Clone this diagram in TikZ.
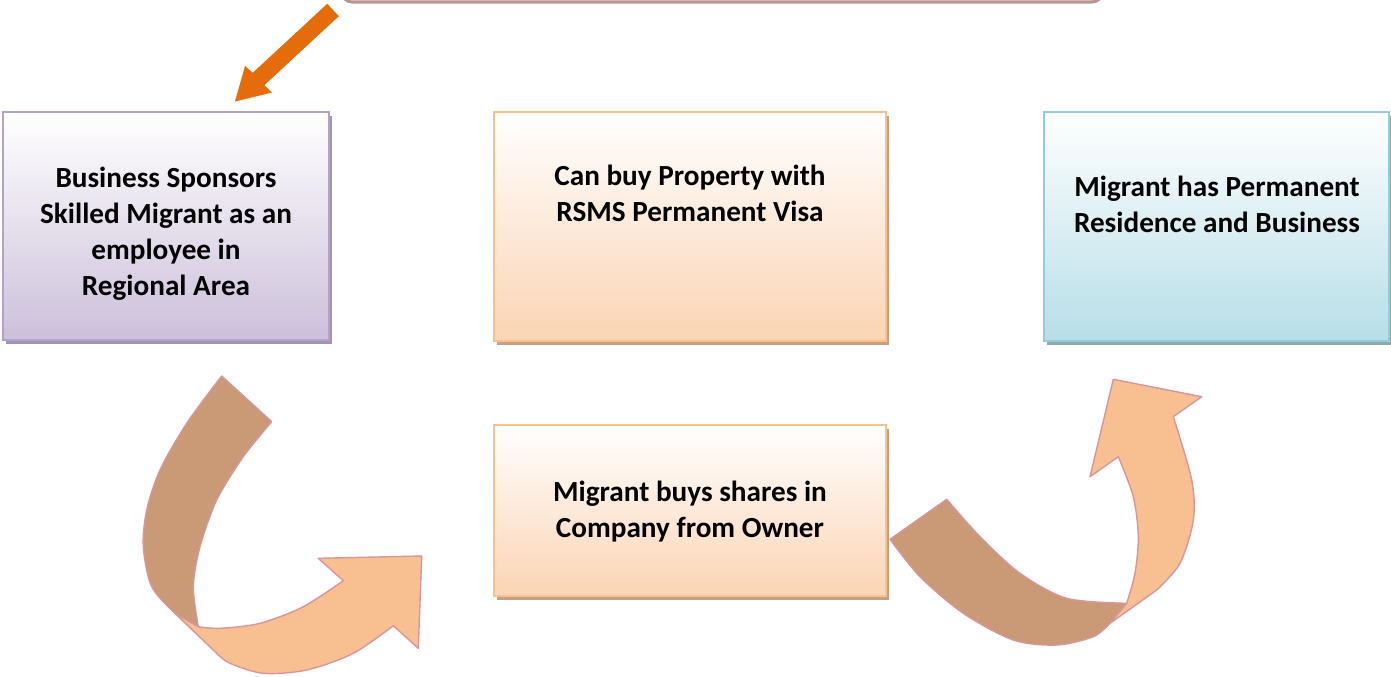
\documentclass[tikz,border=0pt]{standalone}
\usepackage{fontspec}
\setmainfont{Carlito}
\usetikzlibrary{shadows}
\definecolor{pborder}{HTML}{B3A2C7}
\definecolor{pbot}{HTML}{CCC0DA}
\definecolor{pshadow}{HTML}{A193B3}
\definecolor{oborder}{HTML}{FAC090}
\definecolor{obot}{HTML}{FBD4B4}
\definecolor{oshadow}{HTML}{C9A07F}
\definecolor{bborder}{HTML}{93CDDD}
\definecolor{bbot}{HTML}{B7DEE8}
\definecolor{bshadow}{HTML}{8FA9B1}
\definecolor{arrbrown}{HTML}{C99A75}
\definecolor{arrorange}{HTML}{F8C091}
\definecolor{arredge}{HTML}{D9959A}
\definecolor{darkorange}{HTML}{E46C0A}
\definecolor{topband}{HTML}{B79591}
\tikzset{
  boxbase/.style={rectangle, inner sep=0pt, line width=1pt, top color=white},
  pbox/.style={boxbase, draw=pborder, bottom color=pbot,
    drop shadow={shadow xshift=1.5pt, shadow yshift=-2pt, fill=pshadow, opacity=1}},
  obox/.style={boxbase, draw=oborder, bottom color=obot,
    drop shadow={shadow xshift=1.5pt, shadow yshift=-2pt, fill=oshadow, opacity=1}},
  bbox/.style={boxbase, draw=bborder, bottom color=bbot,
    drop shadow={shadow xshift=1.5pt, shadow yshift=-2pt, fill=bshadow, opacity=1}},
  txt/.style={align=center, font=\fontsize{14.6pt}{18pt}\selectfont\bfseries, inner sep=0pt},
  brownpart/.style={fill=arrbrown, draw=arredge, line width=0.7pt, line join=round},
  orangepart/.style={fill=arrorange, draw=arredge, line width=0.7pt, line join=round},
}
\begin{document}
\begin{tikzpicture}[x=0.5pt, y=-0.5pt]
\useasboundingbox (0,0) rectangle (1391,676);
\begin{scope}
\clip (0,0) rectangle (1391,676);
% top (cut-off) rounded box
\fill[topband, rounded corners=6pt] (340,-60) rectangle (1104,3.5);
\fill[white, rounded corners=6pt] (340,-60) rectangle (1104,0.3);
\end{scope}
% orange arrow at top
\fill[darkorange] (327.2,3.8) -- (338.8,16.2) -- (264.3,85.2) -- (272,92.5) -- (235,101.5) -- (245,66) -- (252.7,72.8) -- cycle;
% boxes
\node[pbox, minimum width=163pt, minimum height=114pt] (b1) at (166,226) {};
\node[txt] (t1) at (166,234) {Business Sponsors\\Skilled Migrant as an\\employee in\\Regional Area};
\node[obox, minimum width=196pt, minimum height=114.5pt] (b2) at (690,226.5) {};
\node[txt] (t2) at (690,193) {Can buy Property with\\RSMS Permanent Visa};
\node[bbox, minimum width=172.5pt, minimum height=114.5pt] (b3) at (1216.5,226.5) {};
\node[txt] (t3) at (1217,204.5) {Migrant has Permanent\\Residence and Business};
\node[obox, minimum width=196pt, minimum height=85.5pt] (b4) at (690,510.5) {};
\node[txt] (t4) at (690,512) {Migrant buys shares in\\Company from Owner};
% left curved arrow
\filldraw[brownpart] (221.7,376) -- (271.7,421.7)
  -- plot[smooth] coordinates {(271.7,421.7) (243.3,456.7) (216.7,500) (200,546.7) (193.3,586.7) (198.3,626.7)}
  -- (175,613.3)
  -- plot[smooth] coordinates {(175,613.3) (151.7,586.7) (143.3,546.7) (146.7,510) (160,470) (186.7,423.3) (221.7,376)}
  -- cycle;
\filldraw[orangepart] (175,613.3) -- (216.7,653.3)
  -- plot[smooth] coordinates {(216.7,653.3) (230,663.3) (263.3,673.3) (306.7,670) (353.3,653.3) (393.3,625.7)}
  -- (418.3,648.3) -- (421.7,556) -- (318.3,558.3) -- (343.3,580.7)
  -- plot[smooth] coordinates {(343.3,580.7) (303.3,606.7) (260,623.3) (220,628.3) (198.3,626.7)}
  -- cycle;
% right curved arrow
\filldraw[brownpart] (890,539.3) -- (946.7,499.3)
  -- plot[smooth] coordinates {(946.7,499.3) (980,536.7) (1020,573.3) (1066.7,598.3) (1126.7,603.3)}
  -- (1110,623.3)
  -- plot[smooth] coordinates {(1110,623.3) (1093.3,636.7) (1056.7,645) (1013.3,640) (963.3,613.3) (920,576.7) (890,539.3)}
  -- cycle;
\filldraw[orangepart] (1110,623.3) -- (1156.7,590)
  -- plot[smooth] coordinates {(1156.7,590) (1180,563.3) (1193.3,520) (1191.7,480) (1173.3,416.7)}
  -- (1201.7,396.7) -- (1113.3,379.3) -- (1090,476.7) -- (1118.3,456.7)
  -- plot[smooth] coordinates {(1118.3,456.7) (1133.3,496.7) (1138.3,536.7) (1135,573.3) (1126.7,603.3)}
  -- cycle;
\end{tikzpicture}
\end{document}
